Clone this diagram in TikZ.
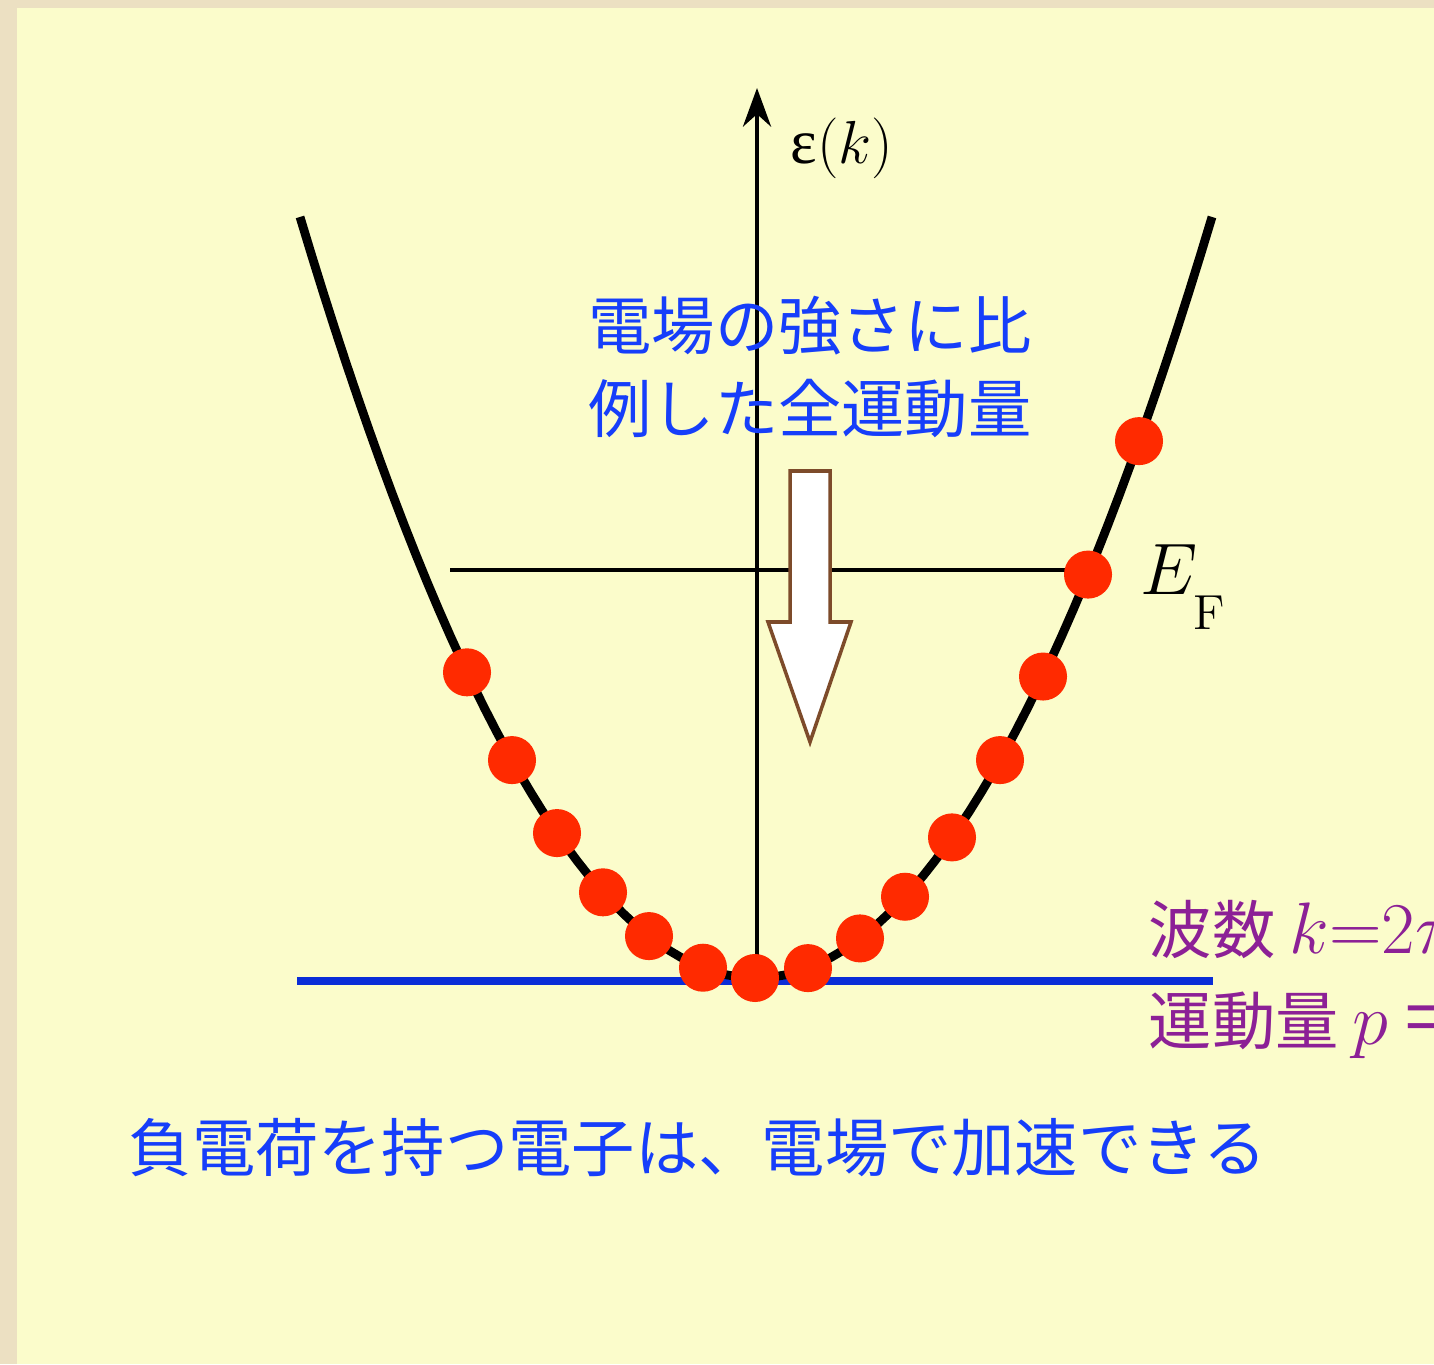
\documentclass[tikz,border=0pt]{standalone}
\usepackage{fontspec}
\usepackage{amsmath}
\usetikzlibrary{arrows.meta,positioning}
\newfontfamily\jpfont{Noto Sans CJK JP}
\newfontfamily\grkfont{Liberation Serif}

\definecolor{framebeige}{RGB}{236,224,194}
\definecolor{panelyellow}{RGB}{251,252,203}
\definecolor{dotred}{RGB}{255,42,0}
\definecolor{textblue}{RGB}{22,62,250}
\definecolor{lineblue}{RGB}{10,45,215}
\definecolor{kpurple}{RGB}{140,32,150}
\definecolor{arrowbrown}{RGB}{125,75,42}

\begin{document}
\begin{tikzpicture}[x=0.01cm, y=-0.01cm,
    jptext/.style={inner sep=0pt, text=textblue, font=\jpfont\fontsize{18}{23.5}\selectfont},
    ktext/.style={inner sep=0pt, text=kpurple, font=\jpfont\fontsize{18}{23.5}\selectfont},
    electron/.style={fill=dotred}]
    \useasboundingbox (0,0) rectangle (1434,1364);

    % Background: textured frame and yellow panel
    \fill[framebeige] (0,0) rectangle (1434,1364);
    \fill[panelyellow] (17,8) rectangle (1434,1364);

    % Bottom of the band (blue line)
    \draw[lineblue, line width=2pt] (297,981) -- (1213,981);

    % Energy axis
    \coordinate (axisbot) at (757,975);
    \coordinate (axistop) at (757,88);
    \draw[line width=1.1pt, -{Stealth[length=11pt,width=8pt]}] (axisbot) -- (axistop);
    \node[anchor=west, inner sep=0pt, font=\fontsize{18}{21}\selectfont] (epslabel) at (790,148) {{\grkfont ε}$(k)$};

    % Fermi level
    \coordinate (fermiL) at (450,570);
    \coordinate (fermiR) at (1088,570);
    \draw[line width=1.1pt] (fermiL) -- (fermiR);
    \node[anchor=base west, inner sep=0pt, font=\fontsize{20}{24}\selectfont] (eflabel) at (1140,594) {$E_{\lower7pt\hbox{$\scriptstyle\mathrm{F}$}}$};

    % Dispersion curve
    \draw[line width=2.5pt] plot[domain=300:1212, samples=80] (\x, {978-36.6*((\x-756)/100)^2});

    % Block arrow (force of the field)
    \draw[arrowbrown, fill=white, line width=1pt, line join=miter]
        (790,471) -- (830,471) -- (830,622) -- (851,622) -- (810,742)
        -- (768,622) -- (790,622) -- cycle;

    % Occupied states, shifted by the field
    \foreach \x in {467,512,557,603,649,703,755,808,860,905,952,1000,1043,1088,1139}
        \fill[electron] (\x, {978-36.6*((\x-756)/100)^2}) circle (0.24cm);

    % Labels
    \node[jptext, align=left] (fieldnote) at (810,367) {電場の強さに比\\例した全運動量};
    \node[ktext, anchor=west] (wavenum) at (1148,935) {波数 {\fontsize{21}{24}\selectfont$k{=}2\pi/\lambda$}};
    \node[ktext, anchor=west] (momentum) at (1148,1025) {運動量 {\fontsize{21}{24}\selectfont$p$ = $\hbar k$}};
    \node[jptext, anchor=west] (caption) at (128,1148) {負電荷を持つ電子は、電場で加速できる};
\end{tikzpicture}
\end{document}
